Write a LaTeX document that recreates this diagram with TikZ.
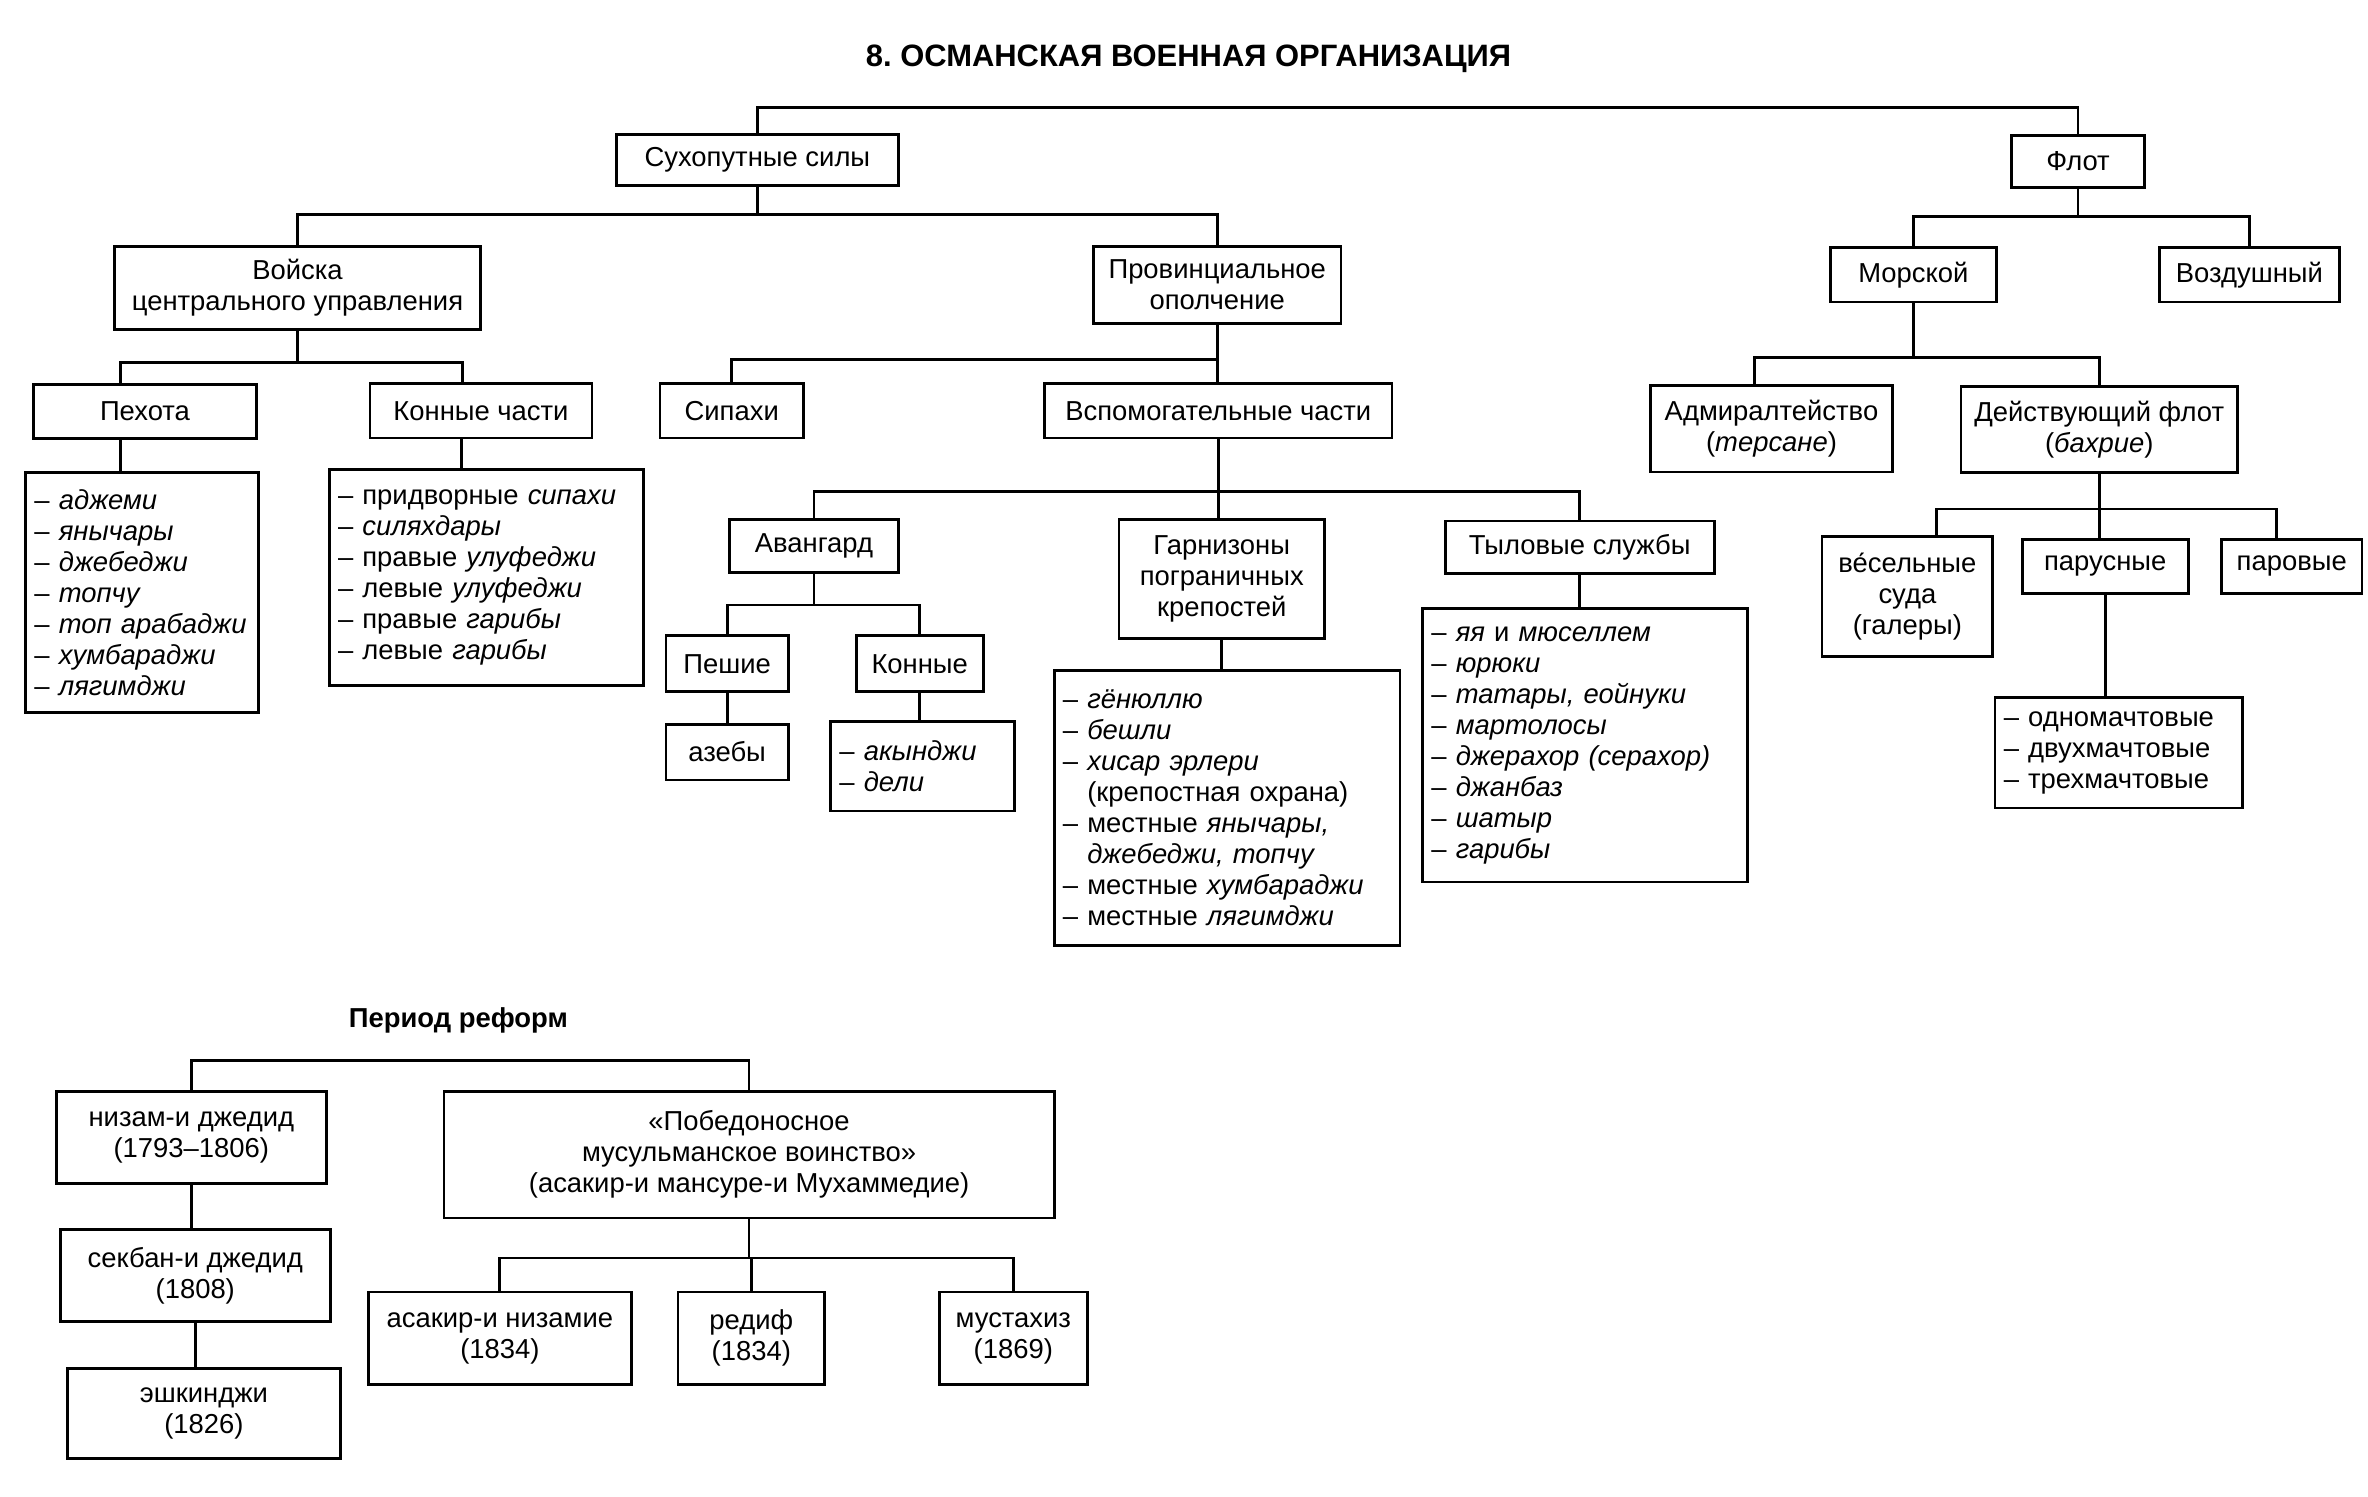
\documentclass[tikz,border=0pt]{standalone}
\usepackage{fontspec}
\setmainfont{Liberation Sans}
\usetikzlibrary{calc}
\frenchspacing
\newcommand{\pxu}{0.15102mm}
\tikzset{
  txt/.style={font=\fontsize{7.8}{8.8}\selectfont},
  ttl/.style={font=\fontsize{8.8}{10}\selectfont\bfseries},
  blk/.style n args={2}{txt, draw, line width=0.8pt, align=center, inner sep=1pt,
    minimum width=#1*\pxu, minimum height=#2*\pxu},
  lst/.style n args={2}{txt, draw, line width=0.8pt, align=left, inner xsep=2.5pt, inner ysep=0pt,
    text width=#1*\pxu-5pt, minimum height=#2*\pxu},
  link/.style={line width=0.8pt},
}

\begin{document}
\begin{tikzpicture}[x=\pxu, y=-\pxu]
  \useasboundingbox (0,0) rectangle (1568,991);
  \node[ttl] (title) at (787,39) {8. ОСМАНСКАЯ ВОЕННАЯ ОРГАНИЗАЦИЯ};
  % land forces
  \node[blk={187}{34}] (land) at (501.5,106) {Сухопутные силы};
  \node[blk={242}{55}] (central) at (197,190.5) {Войска\\центрального управления};
  \node[blk={164}{51}] (prov) at (806,188.7) {Провинциальное\\ополчение};
  \node[blk={148}{36}] (infantry) at (96,272.5) {Пехота};
  \node[blk={147}{36}] (horse) at (318.5,272) {Конные части};
  \node[blk={95}{36}] (sipahi) at (484.5,272) {Сипахи};
  \node[blk={230}{36}] (aux) at (806.7,272) {Вспомогательные части};
  \node[lst={154}{159}] (inflist) at (94,392.5) {– \textit{аджеми}\\– \textit{янычары}\\– \textit{джебеджи}\\– \textit{топчу}\\– \textit{топ арабаджи}\\– \textit{хумбараджи}\\– \textit{лягимджи}};
  \node[lst={208}{143}] (horselist) at (322,382.5) {– придворные \textit{сипахи}\\– \textit{силяхдары}\\– правые \textit{улуфеджи}\\– левые \textit{улуфеджи}\\– правые \textit{гарибы}\\– левые \textit{гарибы}};
  \node[blk={112}{35}] (vanguard) at (539,361.5) {Авангард};
  \node[blk={136}{79}] (garrison) at (809,383.5) {Гарнизоны\\пограничных\\крепостей};
  \node[blk={178}{35}] (rear) at (1046,362.5) {Тыловые службы};
  \node[blk={81}{37}] (foot) at (481.5,439.5) {Пешие};
  \node[blk={84}{37}] (mounted) at (609,439.5) {Конные};
  \node[blk={81}{37}] (azeb) at (481.5,498) {азебы};
  \node[lst={122}{59}] (mountlist) at (611,507.5) {– \textit{акынджи}\\– \textit{дели}};
  \node[lst={229}{182}] (garlist) at (812.5,535) {– \textit{гёнюллю}\\– \textit{бешли}\\– \textit{хисар эрлери}\\\phantom{– }(крепостная охрана)\\– местные \textit{янычары,}\\\phantom{– }\textit{джебеджи, топчу}\\– местные \textit{хумбараджи}\\– местные \textit{лягимджи}};
  \node[lst={215}{181}] (rearlist) at (1049.5,493.5) {– \textit{яя} и \textit{мюселлем}\\– \textit{юрюки}\\– \textit{татары, еойнуки}\\– \textit{мартолосы}\\– \textit{джерахор (серахор)}\\– \textit{джанбаз}\\– \textit{шатыр}\\– \textit{гарибы}};
  % fleet
  \node[blk={88}{34}] (fleet) at (1376,107) {Флот};
  \node[blk={110}{36}] (sea) at (1267,182) {Морской};
  \node[blk={119}{36}] (air) at (1489.5,182) {Воздушный};
  \node[blk={160}{57}] (admiralty) at (1173,284) {Адмиралтейство\\(\textit{терсане})};
  \node[blk={183}{57}] (active) at (1390,284.3) {Действующий флот\\(\textit{бахрие})};
  \node[blk={113}{79}] (oared) at (1263,395) {ве́сельные\\суда\\(галеры)};
  \node[blk={110}{36}] (sail) at (1394,375) {парусные};
  \node[blk={93}{36}] (steam) at (1517.5,375) {паровые};
  \node[lst={164}{73}] (mastlist) at (1403,498.5) {– одномачтовые\\– двухмачтовые\\– трехмачтовые};
  % reform period
  \node[ttl, font=\fontsize{7.8}{9}\selectfont\bfseries] (reform) at (303.5,675.6) {Период реформ};
  \node[blk={179}{61}] (nizam) at (126.7,753) {низам-и джедид\\(1793–1806)};
  \node[blk={404}{84}] (victor) at (496,764.5) {«Победоносное\\мусульманское воинство»\\(асакир-и мансуре-и Мухаммедие)};
  \node[blk={179}{61}] (sekban) at (129.3,844.7) {секбан-и джедид\\(1808)};
  \node[blk={181}{60}] (eshk) at (135,936) {эшкинджи\\(1826)};
  \node[blk={174}{61}] (asakir) at (331,886) {асакир-и низамие\\(1834)};
  \node[blk={97}{61}] (redif) at (497.5,886) {редиф\\(1834)};
  \node[blk={98}{61}] (mustahiz) at (671,886) {мустахиз\\(1869)};
  % bus levels
  \foreach \nm/\yy in {busA/71, busB/142, busC/240, busD/238, busE/325.6, busF/400.6,
                       busG/143.5, busH/236.6, busI/337, busJ/702, busK/833}
    \coordinate (\nm) at (0,\yy);
  \draw[link] (land.north) |- (busA -| fleet) -- (fleet.north);
  \draw[link] (land.south) -- (land.south |- busB);
  \draw[link] (central.north) |- (busB -| prov) -- (prov.north);
  \draw[link] (central.south) -- (central.south |- busC);
  \draw[link] ($(infantry.north)+(-16,0)$) |- ($(horse.north |- busC)+(-12,0)$) -- ($(horse.north)+(-12,0)$);
  \draw[link] ($(infantry.south)+(-16,0)$) -- ($(infantry.south |- inflist.north)+(-16,0)$);
  \draw[link] ($(horse.south)+(-13,0)$) -- ($(horse.south |- horselist.north)+(-13,0)$);
  \draw[link] (prov.south) -- (prov.south |- aux.north);
  \draw[link] (sipahi.north) |- (busD -| prov);
  \draw[link] (aux.south) -- (aux.south |- garrison.north);
  \draw[link] (vanguard.north) |- (busE -| rear) -- (rear.north);
  \draw[link] (vanguard.south) -- (vanguard.south |- busF);
  \draw[link] (foot.north) |- (busF -| mounted) -- (mounted.north);
  \draw[link] (foot.south) -- (azeb.north);
  \draw[link] (mounted.south) -- (mounted.south |- mountlist.north);
  \draw[link] (garrison.south) -- (garrison.south |- garlist.north);
  \draw[link] (rear.south) -- (rear.south |- rearlist.north);
  \draw[link] (fleet.south) -- (fleet.south |- busG);
  \draw[link] (sea.north) |- (busG -| air) -- (air.north);
  \draw[link] (sea.south) -- (sea.south |- busH);
  \draw[link] ($(admiralty.north)+(-11,0)$) |- (busH -| active) -- (active.north);
  \draw[link] (active.south) -- (active.south |- sail.north);
  \draw[link] ($(oared.north)+(19,0)$) |- ($(steam.north |- busI)+(-10,0)$) -- ($(steam.north)+(-10,0)$);
  \draw[link] (sail.south) -- (sail.south |- mastlist.north);
  \draw[link] (nizam.north) |- (busJ -| victor) -- (victor.north);
  \draw[link] (nizam.south) -- (nizam.south |- sekban.north);
  \draw[link] (sekban.south) -- (sekban.south |- eshk.north);
  \draw[link] (victor.south) -- (victor.south |- busK);
  \draw[link] (asakir.north) |- (busK -| mustahiz) -- (mustahiz.north);
  \draw[link] (redif.north) -- (redif.north |- busK);
\end{tikzpicture}
\end{document}
